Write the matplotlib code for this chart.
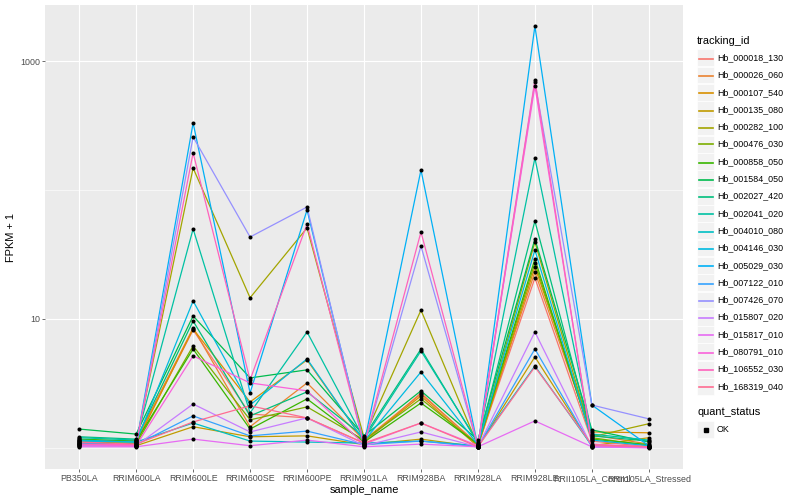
import matplotlib
matplotlib.use("Agg")
import matplotlib.pyplot as plt
from matplotlib.patches import Rectangle
from matplotlib.lines import Line2D
import numpy as np

plt.rcParams['font.family'] = ['Liberation Sans', 'DejaVu Sans']

samples = ["PB350LA", "RRIM600LA", "RRIM600LE", "RRIM600SE", "RRIM600PE",
           "RRIM901LA", "RRIM928BA", "RRIM928LA", "RRIM928LE",
           "RRII105LA_Control", "RRII105LA_Stressed"]

tracking_ids = ["Hb_000018_130", "Hb_000026_060", "Hb_000107_540", "Hb_000135_080",
                "Hb_000282_100", "Hb_000476_030", "Hb_000858_050", "Hb_001584_050",
                "Hb_002027_420", "Hb_002041_020", "Hb_004010_080", "Hb_004146_030",
                "Hb_005029_030", "Hb_007122_010", "Hb_007426_070", "Hb_015807_020",
                "Hb_015817_010", "Hb_080791_010", "Hb_106552_030", "Hb_168319_040"]

colors = ["#F8766D", "#EA8331", "#D89000", "#C09B00", "#A3A500", "#7CAE00",
          "#39B600", "#00BB4E", "#00BF7D", "#00C1A3", "#00BFC4", "#00BAE0",
          "#00B0F6", "#35A2FF", "#9590FF", "#C77CFF", "#E76BF3", "#FA62DB",
          "#FF62BC", "#FF6C91"]

# FPKM values per gene, in sample order
Hb_000018_130 = [0.15, 0.13, 7.22, 0.83, 0.71, 0.09, 1.67, 0.04, 19.8, 0.13, 0.02]
Hb_000026_060 = [0.11, 0.15, 7.52, 0.46, 2.19, 0.15, 1.62, 0.07, 22.1, 0.26, 0.07]
Hb_000107_540 = [0.07, 0.09, 7.37, 1.27, 3.81, 0.13, 1.53, 0.02, 24.3, 0.33, 0.31]
Hb_000135_080 = [0.04, 0.04, 0.46, 0.22, 0.24, 0.06, 0.17, 0.02, 4.08, 0.04, 0.20]
Hb_000282_100 = [0.09, 0.09, 147.0, 13.6, 49.8, 0.20, 10.7, 0.04, 38.5, 0.22, 0.54]
Hb_000476_030 = [0.13, 0.07, 5.18, 0.65, 1.08, 0.15, 1.40, 0.06, 26.2, 0.20, 0.04]
Hb_000858_050 = [0.17, 0.13, 4.85, 0.40, 1.40, 0.11, 1.23, 0.07, 28.2, 0.17, 0.06]
Hb_001584_050 = [0.40, 0.28, 9.55, 2.49, 3.03, 0.24, 1.77, 0.15, 40.7, 0.38, 0.11]
Hb_002027_420 = [0.22, 0.17, 8.65, 0.77, 1.72, 0.22, 4.85, 0.09, 56.5, 0.24, 0.13]
Hb_002041_020 = [0.20, 0.15, 48.9, 0.87, 6.93, 0.17, 4.65, 0.11, 176.0, 0.28, 0.15]
Hb_004010_080 = [0.15, 0.11, 0.56, 0.13, 0.11, 0.09, 0.13, 0.04, 3.32, 0.04, 0.02]
Hb_004146_030 = [0.13, 0.11, 12.8, 1.15, 3.90, 0.13, 2.88, 0.06, 33.3, 0.15, 0.04]
Hb_005029_030 = [0.09, 0.06, 330.0, 1.67, 69.0, 0.07, 142.0, 0.02, 1866.0, 1.15, 0.04]
Hb_007122_010 = [0.07, 0.06, 0.77, 0.24, 0.35, 0.06, 0.13, 0.02, 4.85, 0.02, 0.02]
Hb_007426_070 = [0.06, 0.04, 257.0, 42.2, 72.8, 0.04, 35.8, 0.02, 686.0, 1.15, 0.68]
Hb_015807_020 = [0.04, 0.04, 1.19, 0.33, 0.71, 0.04, 0.33, 0.02, 6.93, 0.02, 0.02]
Hb_015817_010 = [0.02, 0.02, 0.17, 0.04, 0.15, 0.02, 0.07, 0.02, 0.62, 0.02, 0.00]
Hb_080791_010 = [0.06, 0.04, 4.17, 2.19, 1.77, 0.07, 0.56, 0.04, 639.0, 0.07, 0.02]
Hb_106552_030 = [0.07, 0.06, 193.0, 2.37, 53.5, 0.06, 46.3, 0.04, 711.0, 0.04, 0.02]
Hb_168319_040 = [0.11, 0.07, 0.59, 1.12, 0.71, 0.09, 0.56, 0.02, 3.25, 0.06, 0.02]

fpkm = [Hb_000018_130, Hb_000026_060, Hb_000107_540, Hb_000135_080, Hb_000282_100,
        Hb_000476_030, Hb_000858_050, Hb_001584_050, Hb_002027_420, Hb_002041_020,
        Hb_004010_080, Hb_004146_030, Hb_005029_030, Hb_007122_010, Hb_007426_070,
        Hb_015807_020, Hb_015817_010, Hb_080791_010, Hb_106552_030, Hb_168319_040]

W, H = 800, 500
fig = plt.figure(figsize=(8, 5), dpi=100)
fig.patch.set_facecolor("white")
L, R, T, B = 45, 683, 5, 469
ax = fig.add_axes([L / W, 1 - B / H, (R - L) / W, (B - T) / H])
ax.set_facecolor("#EBEBEB")

x = np.arange(len(samples))
vals = np.array(fpkm) + 1.0

for i, row in enumerate(vals):
    ax.plot(x, row, color=colors[i], lw=0.9, zorder=3, solid_capstyle="butt")
ax.scatter(np.tile(x, len(vals)), vals.ravel(), s=8.5, color="black", zorder=4, linewidths=0)

ax.set_yscale("log")
lo, hi = np.log10(vals.min()), np.log10(vals.max())
pad = 0.05 * (hi - lo)
ax.set_ylim(10 ** (lo - pad), 10 ** (hi + pad))
ax.set_xlim(-0.6, len(samples) - 1 + 0.6)

ax.set_yticks([10, 1000])
ax.set_yticklabels(["10", "1000"])
ax.set_yticks([1, 100], minor=True)
ax.yaxis.set_minor_formatter(matplotlib.ticker.NullFormatter())
ax.set_xticks(x)
ax.set_xticklabels(samples)

ax.grid(True, which="major", color="white", lw=0.8, zorder=0)
ax.grid(True, which="minor", axis="y", color="white", lw=0.4, zorder=0)
ax.set_axisbelow(True)
for s in ax.spines.values():
    s.set_visible(False)
ax.tick_params(axis="both", which="major", length=2.0, width=0.5, color="#333333",
               labelsize=6.4, labelcolor="#4D4D4D", pad=1.5)
ax.tick_params(axis="y", which="minor", length=0)

ax.set_xlabel("sample_name", fontsize=7.9, color="black", labelpad=1.5)
ax.set_ylabel("FPKM + 1", fontsize=7.9, color="black", labelpad=3)

def fx(px):
    return px / W

def fy(py):
    return 1 - py / H

# tracking_id legend
fig.text(fx(697), fy(40.5), "tracking_id", fontsize=7.9, va="center", ha="left")
y0, dy = 57.7, 17.3
for i, name in enumerate(tracking_ids):
    yc = y0 + i * dy
    fig.add_artist(Rectangle((fx(697), fy(yc + 8.4)), 17 / W, 16.8 / H,
                             transform=fig.transFigure, facecolor="#F2F2F2",
                             edgecolor="white", lw=0.5))
    fig.add_artist(Line2D([fx(698.5), fx(712.5)], [fy(round(yc) + 0.5), fy(round(yc) + 0.5)],
                          transform=fig.transFigure, color=colors[i], lw=1.2))
    fig.text(fx(717), fy(yc), name, fontsize=6.4, va="center", ha="left")

# quant_status legend
fig.text(fx(697), fy(412), "quant_status", fontsize=7.9, va="center", ha="left")
yc = 429.5
fig.add_artist(Rectangle((fx(697), fy(yc + 8.4)), 17 / W, 16.8 / H,
                         transform=fig.transFigure, facecolor="#F2F2F2",
                         edgecolor="white", lw=0.5))
fig.add_artist(Line2D([fx(705.5)], [fy(yc)], transform=fig.transFigure,
                      marker="s", markersize=2.8, color="black", lw=0))
fig.text(fx(717), fy(yc), "OK", fontsize=6.4, va="center", ha="left")

fig.savefig("out.png", dpi=100)
